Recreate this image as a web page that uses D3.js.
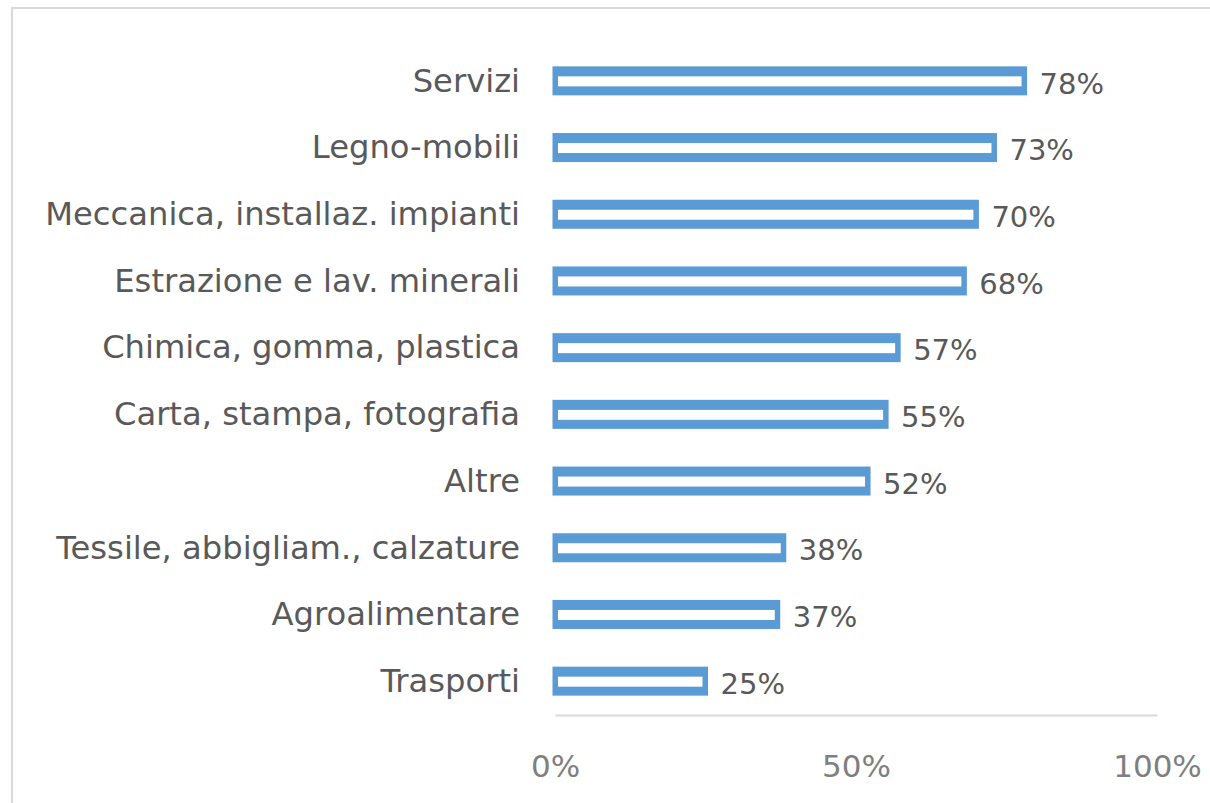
<!DOCTYPE html>
<html>
<head>
<meta charset="utf-8">
<script src="https://d3js.org/d3.v7.min.js"></script>
<style>
  body { margin: 0; background: #fff; }
  svg { display: block; }
  .cat, .val { font-family: "DejaVu Sans", sans-serif; fill: #595959; }
  .tick text { font-family: "DejaVu Sans", sans-serif; fill: #7f7f7f; }
</style>
</head>
<body>
<svg id="chart" width="1210" height="803"></svg>
<script>
// data
var categories = ['Servizi', 'Legno-mobili', 'Meccanica, installaz. impianti', 'Estrazione e lav. minerali',
  'Chimica, gomma, plastica', 'Carta, stampa, fotografia', 'Altre', 'Tessile, abbigliam., calzature',
  'Agroalimentare', 'Trasporti'];
var values = [0.78, 0.73, 0.70, 0.68, 0.57, 0.55, 0.52, 0.38, 0.37, 0.25];
var tickValues = [0, 0.5, 1];

var svg = d3.select('#chart');
var width = +svg.attr('width');
var height = +svg.attr('height');

// chart frame
svg.append('rect')
    .attr('x', 12).attr('y', 8)
    .attr('width', width + 20).attr('height', height + 20)
    .attr('fill', 'none')
    .attr('stroke', '#d9d9d9')
    .attr('stroke-width', 2);

var x = d3.scaleLinear().domain([0, 1]).range([555, 1157]);
var y = d3.scaleBand().domain(categories).range([48, 715]).paddingInner(0.58).paddingOuter(0.29);

var fmt = d3.format('.0%');

// outer blue bar, white inside
var bars = svg.selectAll('.bar')
    .data(categories)
    .join('g')
    .classed('bar', true);

bars.append('rect')
    .attr('x', x(0) - 2.5)
    .attr('y', d => y(d) - 1)
    .attr('width', (d, i) => x(values[i]) - x(0) + 5)
    .attr('height', y.bandwidth() + 1)
    .attr('fill', '#5b9bd5');

bars.append('rect')
    .attr('x', x(0) + 3)
    .attr('y', d => y(d) + 9)
    .attr('width', (d, i) => x(values[i]) - x(0) - 6)
    .attr('height', y.bandwidth() - 18)
    .attr('fill', '#fff');

// category labels
svg.selectAll('.cat')
    .data(categories)
    .join('text')
    .classed('cat', true)
    .attr('x', 520)
    .attr('y', d => y(d) + y.bandwidth() / 2 - 1)
    .attr('dy', '0.35em')
    .attr('text-anchor', 'end')
    .style('font-size', '32.2px')
    .text(d => d);

// value labels
svg.selectAll('.val')
    .data(categories)
    .join('text')
    .classed('val', true)
    .attr('x', (d, i) => x(values[i]) + 15)
    .attr('y', d => y(d) + y.bandwidth() / 2 + 2)
    .attr('dy', '0.35em')
    .style('font-size', '29px')
    .text((d, i) => fmt(values[i]));

// bottom axis
var axis = svg.append('g')
    .attr('transform', 'translate(0,715)')
    .call(d3.axisBottom(x).tickValues(tickValues).tickFormat(fmt).tickSize(0).tickPadding(40));

axis.select('.domain').attr('stroke', '#d9d9d9').attr('stroke-width', 2);
axis.selectAll('.tick text').style('font-size', '31px');
</script>
</body>
</html>
